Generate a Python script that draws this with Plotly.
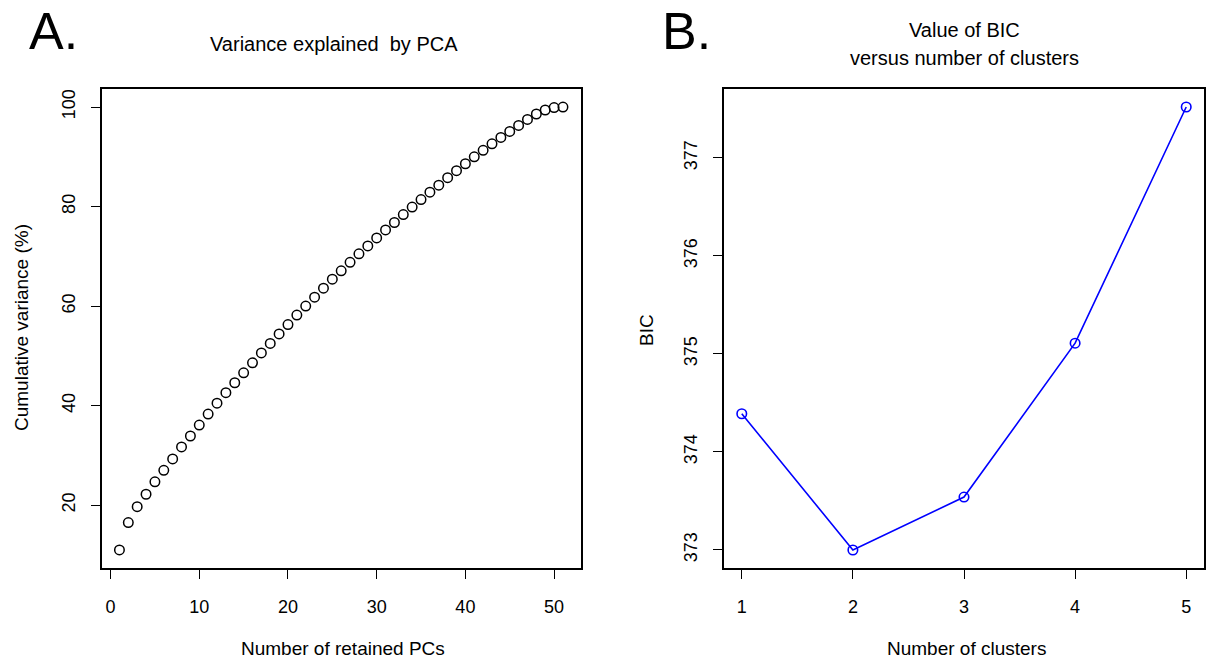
import plotly.graph_objects as go

# Panel A: cumulative variance explained by the retained principal components
pc_index = list(range(1, 52))
cum_variance = [
    11.0, 16.5, 19.7, 22.2, 24.7, 27.0, 29.3, 31.7, 33.9, 36.1,
    38.3, 40.5, 42.6, 44.6, 46.6, 48.6, 50.6, 52.5, 54.4, 56.3,
    58.2, 60.0, 61.8, 63.6, 65.4, 67.1, 68.8, 70.5, 72.1, 73.7,
    75.3, 76.8, 78.4, 79.9, 81.4, 82.9, 84.3, 85.8, 87.2, 88.6,
    90.0, 91.3, 92.6, 93.9, 95.1, 96.3, 97.5, 98.6, 99.4, 99.9,
    100.0,
]
pc_ticks = [0, 10, 20, 30, 40, 50]
var_ticks = [20, 40, 60, 80, 100]

# Panel B: BIC for each number of clusters
n_clusters = [1, 2, 3, 4, 5]
bic_values = [374.39, 373.00, 373.54, 375.11, 377.52]
bic_ticks = [373, 374, 375, 376, 377]

W, H = 1206, 664
FONT = "Liberation Sans, Arial, sans-serif"


def px_x(p):
    return p / W


def px_y(p):
    return 1 - p / H


# plot boxes in pixels (left, top, right, bottom)
box_a = (101.7, 89.3, 580.7, 567.7)
box_b = (724.0, 89.3, 1204.0, 567.7)


def pad_range(vals):
    lo, hi = min(vals), max(vals)
    d = (hi - lo) * 0.04
    return [lo - d, hi + d]


fig = go.Figure()

fig.add_trace(go.Scatter(
    x=pc_index, y=cum_variance, mode="markers",
    marker=dict(symbol="circle-open", size=9.5, color="black",
                line=dict(width=1.5, color="black")),
    xaxis="x", yaxis="y", showlegend=False,
))

fig.add_trace(go.Scatter(
    x=n_clusters, y=bic_values, mode="lines+markers",
    line=dict(color="#0000FF", width=1.6),
    marker=dict(symbol="circle-open", size=9.5, color="#0000FF",
                line=dict(width=1.6, color="#0000FF")),
    xaxis="x2", yaxis="y2", showlegend=False,
))

axis_common = dict(
    showline=True, mirror=True, linecolor="black", linewidth=1.7,
    ticks="outside", ticklen=9, tickwidth=1.4, tickcolor="black",
    showgrid=False, zeroline=False,
    tickfont=dict(family=FONT, size=18, color="black"),
)

fig.update_layout(
    width=W, height=H,
    margin=dict(l=0, r=0, t=0, b=0),
    paper_bgcolor="white", plot_bgcolor="white",
    font=dict(family=FONT, color="black"),
    xaxis=dict(domain=[px_x(box_a[0]), px_x(box_a[2])],
               range=pad_range(pc_index), tickvals=pc_ticks,
               anchor="y", ticklabelstandoff=13, **axis_common),
    yaxis=dict(domain=[px_y(box_a[3]), px_y(box_a[1])],
               range=pad_range(cum_variance), tickvals=var_ticks,
               anchor="x", tickangle=-90, ticklabelstandoff=9, **axis_common),
    xaxis2=dict(domain=[px_x(box_b[0]), px_x(box_b[2])],
                range=pad_range(n_clusters), tickvals=n_clusters,
                anchor="y2", ticklabelstandoff=13, **axis_common),
    yaxis2=dict(domain=[px_y(box_b[3]), px_y(box_b[1])],
                range=pad_range(bic_values), tickvals=bic_ticks,
                anchor="x2", tickangle=-90, ticklabelstandoff=9, **axis_common),
)


def label(text, x, y, size, angle=0):
    fig.add_annotation(
        text=text, x=px_x(x), y=px_y(y), xref="paper", yref="paper",
        xanchor="center", yanchor="middle", showarrow=False, textangle=angle,
        font=dict(family=FONT, size=size, color="black"),
    )


# panel letters
label("A.", 53, 31, 52)
label("B.", 686, 31, 52)

# titles
label("Variance explained  by PCA", 334, 44, 20)
label("Value of BIC", 964, 30, 20)
label("versus number of clusters", 964, 58, 20)

# axis titles
label("Number of retained PCs", 343, 648, 19)
label("Cumulative variance (%)", 22, 328, 19, -90)
label("Number of clusters", 966, 648, 19)
label("BIC", 646, 330, 19, -90)

fig.write_html("out.html")
